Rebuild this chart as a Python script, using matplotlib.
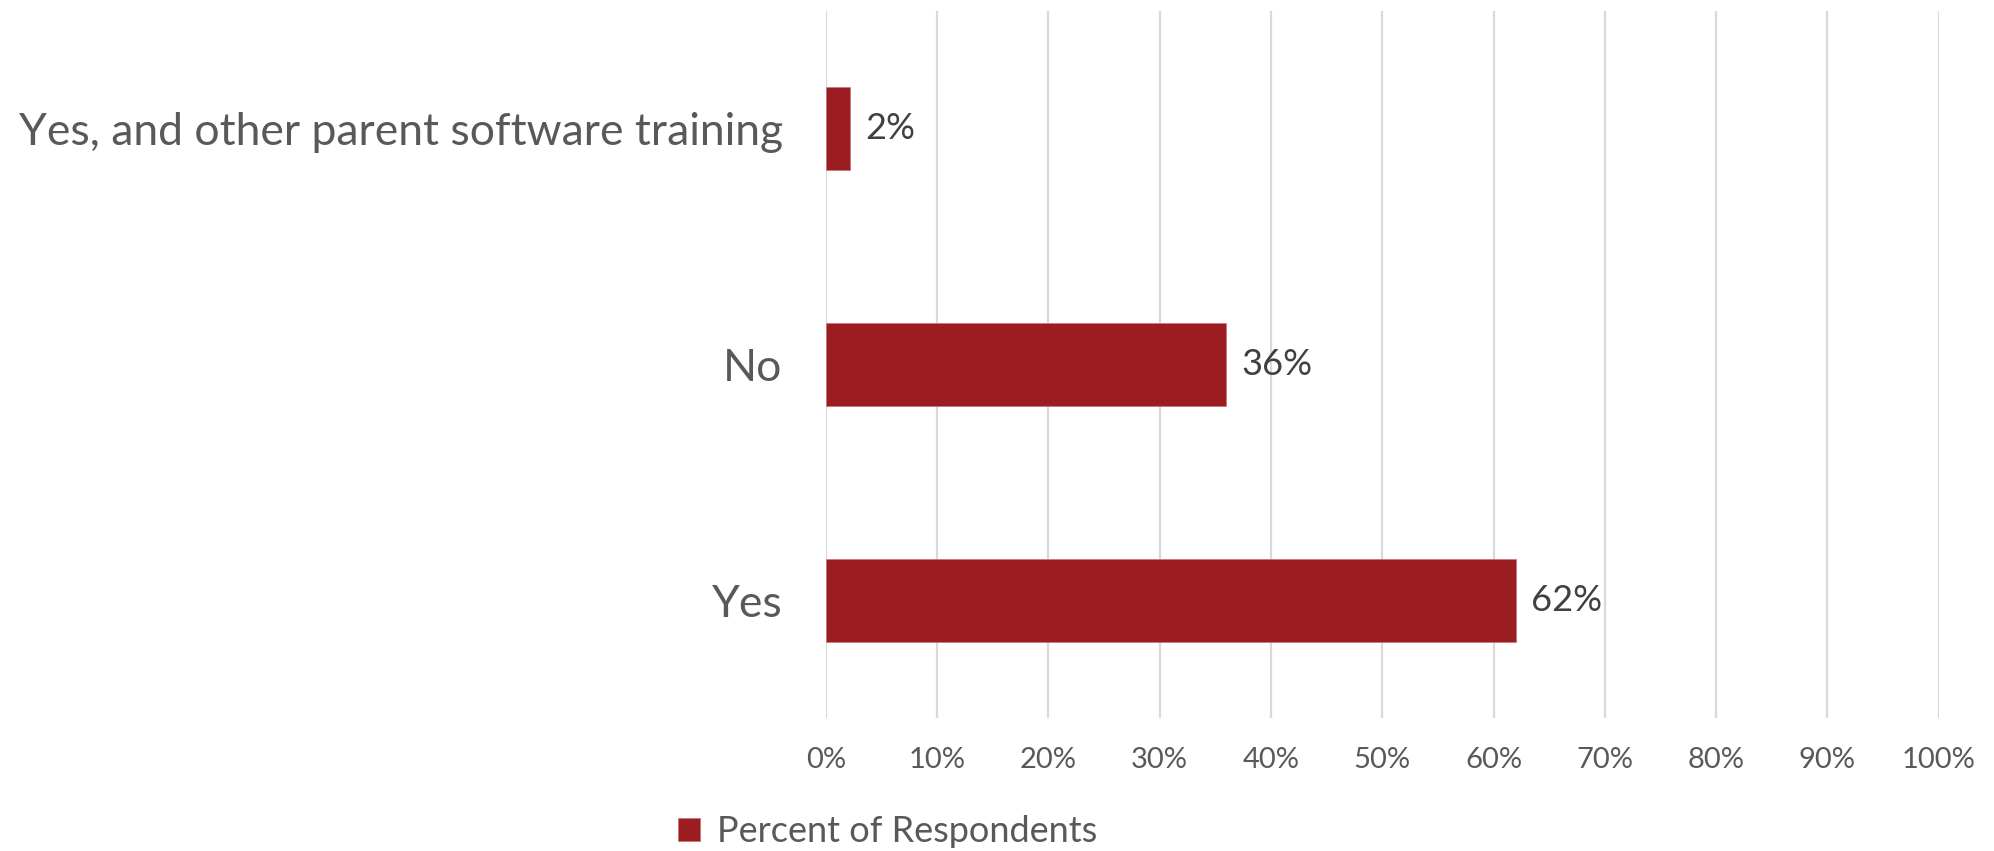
import matplotlib.pyplot as plt
from matplotlib.ticker import FuncFormatter

categories = ['Yes', 'No', 'Yes, and other parent software training']
percents = [62, 36, 2.2]
value_labels = ['62%', '36%', '2%']
series_name = 'Percent of Respondents'

bar_color = '#9B1C21'
text_gray = '#595959'

plt.rcParams['font.family'] = ['Lato', 'DejaVu Sans']

fig = plt.figure(figsize=(19.94, 8.51), dpi=100)
ax = fig.add_axes([0.4141, 0.1563, 0.5582, 0.8308])

bars = ax.barh(range(len(categories)), percents, height=0.352, color=bar_color,
               edgecolor='#C9777A', linewidth=0.6, label=series_name, zorder=3)
ax.bar_label(bars, labels=value_labels, padding=11, fontsize=26, color='#404040')

ax.set_xlim(0, 100)
ax.set_ylim(-0.5, len(categories) - 0.5)
ax.set_xticks(range(0, 101, 10))
ax.xaxis.set_major_formatter(FuncFormatter(lambda v, p: f'{v:.0f}%'))
ax.set_yticks(range(len(categories)))
ax.set_yticklabels(categories)

ax.grid(axis='x', color='#D9D9D9', linewidth=1.6, zorder=0)
for s in ax.spines.values():
    s.set_visible(False)
ax.tick_params(axis='x', length=0, pad=21, labelsize=21, labelcolor=text_gray)
ax.tick_params(axis='y', length=0, pad=31, labelsize=32, labelcolor=text_gray)

ax.legend(loc='center left', bbox_to_anchor=(678 / 1994, 1 - 832 / 851),
          bbox_transform=fig.transFigure, frameon=False, fontsize=26,
          labelcolor=text_gray, handlelength=0.62, handleheight=0.62,
          handletextpad=0.45, borderaxespad=0, borderpad=0)

fig.savefig('out.png', dpi=100)
